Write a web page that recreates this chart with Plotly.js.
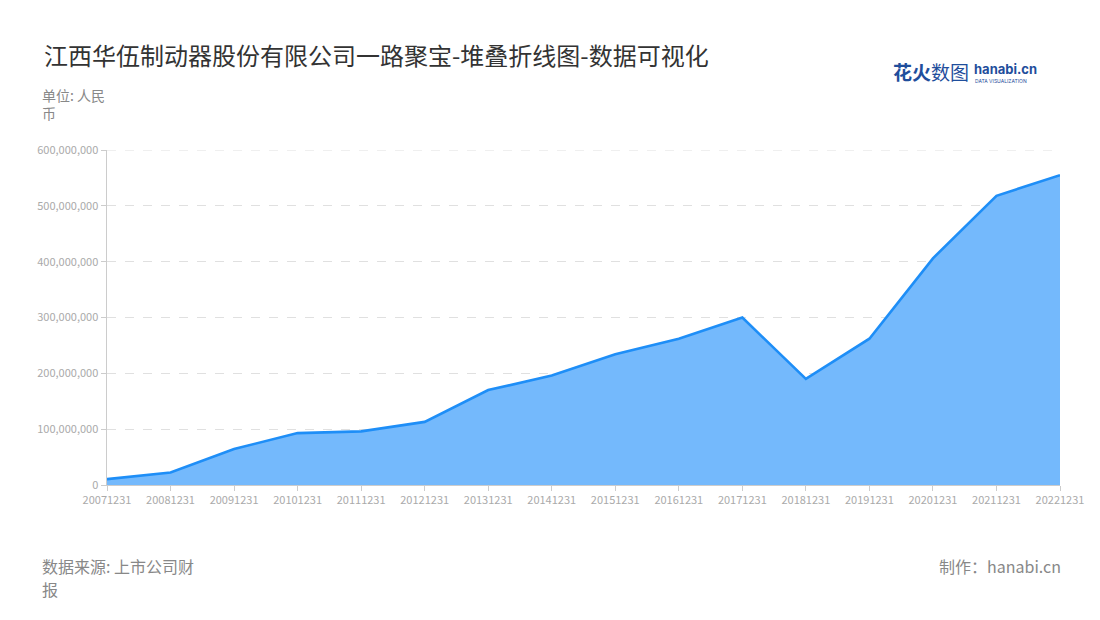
<!DOCTYPE html>
<html>
<head>
<meta charset="utf-8">
<script src="https://cdn.plot.ly/plotly-3.0.1.min.js"></script>
<style>html,body{margin:0;padding:0;background:#fff;}#chart{width:1100px;height:620px;}</style>
</head>
<body>
<div id="chart"></div>
<script>
const categories = ["20071231","20081231","20091231","20101231","20111231","20121231","20131231","20141231","20151231","20161231","20171231","20181231","20191231","20201231","20211231","20221231"];
const values = [10500000, 22500000, 64500000, 93000000, 96000000, 113000000, 170000000, 196000000, 234000000, 262000000, 300000000, 190000000, 262000000, 406000000, 518000000, 555000000];
const yTicks = [0, 100000000, 200000000, 300000000, 400000000, 500000000, 600000000];
const yTickLabels = ["0", "100,000,000", "200,000,000", "300,000,000", "400,000,000", "500,000,000", "600,000,000"];

const font = "'Noto Sans CJK SC', 'Noto Sans', sans-serif";
const trace = {
  x: categories,
  y: values,
  type: "scatter",
  mode: "lines",
  fill: "tozeroy",
  fillcolor: "rgba(116,185,252,1)",
  line: {color: "#1e8ef7", width: 2.6},
  hoverinfo: "x+y"
};
const yMax = yTicks[yTicks.length - 1];
const layout = {
  width: 1100, height: 620,
  paper_bgcolor: "#fff", plot_bgcolor: "#fff",
  margin: {l: 107, r: 40, t: 150, b: 135},
  showlegend: false,
  font: {family: font, color: "#999"},
  title: {text: "江西华伍制动器股份有限公司一路聚宝-堆叠折线图-数据可视化", x: 0.04, xanchor: "left", y: 0.908, yanchor: "middle",
          font: {family: font, size: 24, color: "#333"}},
  xaxis: {
    type: "category", range: [0, categories.length - 1],
    showgrid: false, showline: true, linecolor: "#ccc", linewidth: 1,
    ticks: "outside", ticklen: 5, tickcolor: "#ccc",
    tickfont: {family: font, size: 11, color: "#aaa"}, tickangle: 0,
    zeroline: false, fixedrange: true
  },
  yaxis: {
    range: [0, yMax], tickvals: yTicks, ticktext: yTickLabels,
    showgrid: true, gridcolor: "#e0e0e0", griddash: "dash", gridwidth: 1,
    showline: true, linecolor: "#ccc", linewidth: 1.5,
    ticks: "outside", ticklen: 5, tickcolor: "#ccc",
    tickfont: {family: font, size: 11, color: "#aaa"},
    zeroline: false, fixedrange: true
  },
  shapes: [
    {type: "line", xref: "paper", yref: "y", x0: 0, x1: 1, y0: yMax, y1: yMax,
     line: {color: "#e0e0e0", width: 1, dash: "dash"}, layer: "below"}
  ],
  annotations: [
    {text: "单位: 人民<br>币", xref: "paper", yref: "paper", x: -0.07, y: 1.2, xanchor: "left", yanchor: "top", align: "left", showarrow: false,
     font: {family: font, size: 14, color: "#888"}},
    {text: "数据来源: 上市公司财", xref: "paper", yref: "paper", x: -0.07, y: -0.2, xanchor: "left", yanchor: "top", align: "left", showarrow: false,
     font: {family: font, size: 16, color: "#888"}},
    {text: "报", xref: "paper", yref: "paper", x: -0.07, y: -0.268, xanchor: "left", yanchor: "top", align: "left", showarrow: false,
     font: {family: font, size: 16, color: "#888"}},
    {text: "制作：hanabi.cn", xref: "paper", yref: "paper", x: 1.003, y: -0.2, xanchor: "right", yanchor: "top", align: "right", showarrow: false,
     font: {family: font, size: 16, color: "#888"}},
    {text: "<b>花火</b>数图", xref: "paper", yref: "paper", x: 0.823, y: 1.235, xanchor: "left", yanchor: "middle", showarrow: false,
     font: {family: font, size: 19, color: "#1f4e9c"}},
    {text: "<b>hanabi.cn</b>", xref: "paper", yref: "paper", x: 0.908, y: 1.242, xanchor: "left", yanchor: "middle", showarrow: false,
     font: {family: "Inter, sans-serif", size: 13, color: "#1f4e9c"}},
    {text: "DATA VISUALIZATION", xref: "paper", yref: "paper", x: 0.909, y: 1.207, xanchor: "left", yanchor: "middle", showarrow: false,
     font: {family: "Inter, sans-serif", size: 5, color: "#1f4e9c"}}
  ]
};
Plotly.newPlot("chart", [trace], layout, {displayModeBar: false, staticPlot: true});
</script>
</body>
</html>
